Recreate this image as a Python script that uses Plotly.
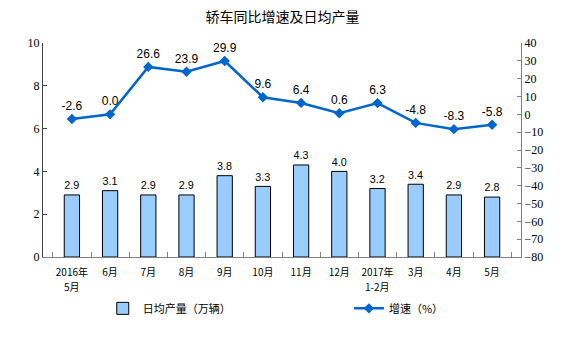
import plotly.graph_objects as go

categories = ["2016年<br>5月", "6月", "7月", "8月", "9月", "10月", "11月", "12月",
              "2017年<br>1-2月", "3月", "4月", "5月"]
daily_output = [2.9, 3.1, 2.9, 2.9, 3.8, 3.3, 4.3, 4.0, 3.2, 3.4, 2.9, 2.8]
growth_rate = [-2.6, 0.0, 26.6, 23.9, 29.9, 9.6, 6.4, 0.6, 6.3, -4.8, -8.3, -5.8]

cjk = "Noto Sans CJK SC"
num_font = "Liberation Serif"
lab_font = "Liberation Sans"

first_lines = [c.split("<br>")[0] for c in categories]
second_lines = [(c, c.split("<br>")[1]) for c in categories if "<br>" in c]

fig = go.Figure()
fig.add_trace(go.Bar(
    x=categories, y=daily_output, name="日均产量（万辆）",
    marker=dict(color="#99CCFF", line=dict(color="#000000", width=1)),
    text=[f"{v:.1f}" for v in daily_output], textposition="outside",
    textfont=dict(family=lab_font, size=12, color="#000000"),
    cliponaxis=False, legend="legend",
))
fig.add_trace(go.Scatter(
    x=categories, y=growth_rate, name="增速（%）", yaxis="y2",
    mode="lines+markers+text",
    line=dict(color="#0066CC", width=2.5),
    marker=dict(symbol="diamond", size=8, color="#0066CC"),
    text=[f"{v:.1f}" for v in growth_rate], textposition="top center",
    textfont=dict(family=lab_font, size=12, color="#000000"),
    cliponaxis=False, legend="legend2",
))

for cat, line2 in second_lines:
    fig.add_annotation(x=cat, xref="x", y=-0.14, yref="paper", text=line2,
                       showarrow=False, xanchor="center", yanchor="middle",
                       font=dict(family=cjk, size=10, color="#000000"))

fig.update_layout(
    width=565, height=351,
    margin=dict(l=43, r=44, t=43, b=94),
    paper_bgcolor="white", plot_bgcolor="white",
    title=dict(text="轿车同比增速及日均产量", x=0.5, xanchor="center", y=0.95, yanchor="middle",
               font=dict(family=cjk, size=14, color="#000000")),
    bargap=0.6,
    showlegend=True,
    legend=dict(orientation="h", x=0.125, y=-0.24, xanchor="left", yanchor="middle",
                font=dict(family=cjk, size=11, color="#000000"), bgcolor="rgba(0,0,0,0)"),
    legend2=dict(orientation="h", x=0.64, y=-0.24, xanchor="left", yanchor="middle",
                 font=dict(family=cjk, size=11, color="#000000"), bgcolor="rgba(0,0,0,0)"),
    xaxis=dict(
        type="category", showline=True, linecolor="#808080", linewidth=1,
        ticks="inside", tickson="boundaries", ticklen=5, tickcolor="#808080",
        tickangle=0, tickmode="array", tickvals=categories, ticktext=first_lines,
        ticklabelstandoff=6,
        tickfont=dict(family=cjk, size=10, color="#000000"),
        showgrid=False, zeroline=False, mirror=False,
    ),
    yaxis=dict(
        range=[0, 10], dtick=2, showline=True, linecolor="#404040", linewidth=1,
        ticks="inside", ticklen=4, tickcolor="#404040",
        tickfont=dict(family=num_font, size=12, color="#000000"),
        showgrid=False, zeroline=False,
    ),
    yaxis2=dict(
        range=[-80, 40], dtick=10, overlaying="y", side="right",
        showline=True, linecolor="#808080", linewidth=1,
        ticks="inside", ticklen=4, tickcolor="#808080",
        tickfont=dict(family=num_font, size=12, color="#000000"),
        showgrid=False, zeroline=False,
    ),
)

fig.write_html("out.html")
